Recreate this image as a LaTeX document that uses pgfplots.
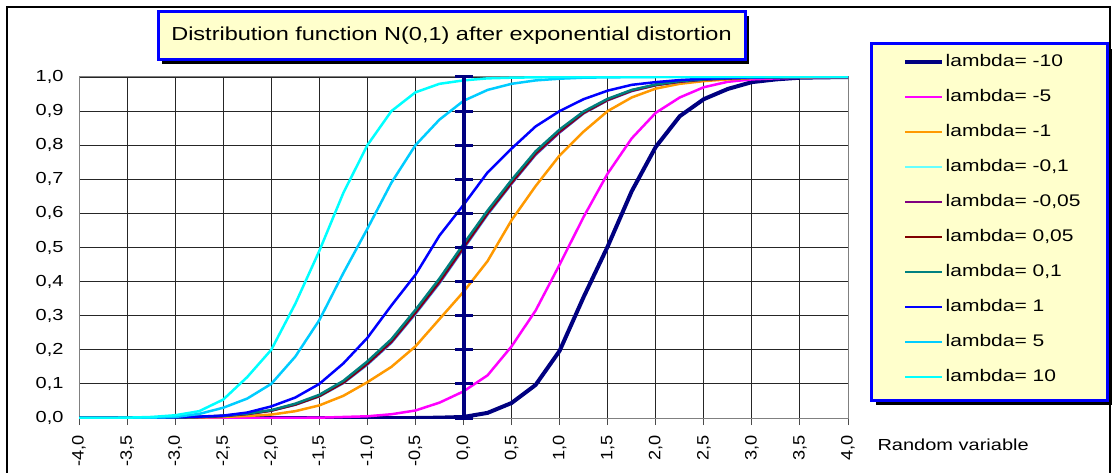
\documentclass[border=0pt]{standalone}
\usepackage{fontspec}
\setmainfont{Liberation Sans}[FakeStretch=1.25]
\newfontfamily\tickfont{Liberation Sans}[FakeStretch=1.1]
\usepackage{pgfplots}
\pgfplotsset{compat=1.18}

\definecolor{cnavy}{HTML}{000080}
\definecolor{cmag}{HTML}{FF00FF}
\definecolor{corange}{HTML}{FF9900}
\definecolor{clcyan}{HTML}{66FFFF}
\definecolor{cpurple}{HTML}{800080}
\definecolor{cmaroon}{HTML}{800000}
\definecolor{cteal}{HTML}{008080}
\definecolor{cblue}{HTML}{0000FF}
\definecolor{csky}{HTML}{00CCFF}
\definecolor{ccyan}{HTML}{00FFFF}
\definecolor{boxfill}{HTML}{FFFFCC}

\begin{document}
\begin{tikzpicture}[x=1pt,y=1pt]
\useasboundingbox (0,0) rectangle (1114,472);
% outer frame
\draw[black, line width=1.5pt] (7,-20) -- (7,465) -- (1110,465) -- (1110,-20);

% title box
\fill[black] (162,408) rectangle (749,456);
\draw[cblue, line width=3pt, fill=boxfill] (158,412) rectangle (745,460);
\node[font=\fontsize{18.8}{21}\selectfont] at (451.5,436) {Distribution function N(0,1) after exponential distortion};

% legend box
\fill[black] (876,67) rectangle (1112,423);
\draw[cblue, line width=3pt, fill=boxfill] (871,72) rectangle (1107,428);

\begin{axis}[
  at={(79pt,54pt)}, anchor=south west,
  scale only axis, width=769pt, height=341pt,
  xmin=-4, xmax=4, ymin=0, ymax=1,
  xtick={-4,-3.5,-3,-2.5,-2,-1.5,-1,-0.5,0,0.5,1,1.5,2,2.5,3,3.5,4},
  ytick={0,0.1,0.2,0.3,0.4,0.5,0.6,0.7,0.8,0.9,1},
  grid=major,
  major grid style={black!85, line width=0.9pt},
  axis line style={black!50, line width=1pt},
  tick align=outside, major tick length=7pt,
  xtick pos=bottom, ytick pos=left,
  ytick style={draw=none},
  xtick style={black!70, line width=1pt},
  /pgf/number format/.cd, fixed, fixed zerofill, precision=1, use comma, assume math mode=true,
  /pgfplots/.cd,
  yticklabel style={font=\fontsize{16}{18}\selectfont, xshift=-5pt},
  xticklabel style={font=\tickfont\fontsize{16.5}{18}\selectfont, rotate=90, anchor=east, xshift=-7pt},
  legend style={at={(axis description cs:1.07152,1.06745)}, anchor=north west,
    draw=none, fill=none, inner sep=0pt, row sep=19pt, column sep=1.5pt,
    font=\fontsize{16.8}{19}\selectfont,
    nodes={inner sep=0pt, text height=12pt, text depth=4pt}},
  legend cell align=left,
  legend image code/.code={\draw[#1] (0pt,0pt) -- (37pt,0pt);},
]
% lambda = -10
\addplot[cnavy, line width=4pt] coordinates {
(-4,0)(-3.5,0)(-3,0)(-2.5,0)(-2,0)(-1.5,0)(-1,0)(-0.5,0)(-0.25,0.001)(0,0.003)
(0.25,0.015)(0.5,0.044)(0.75,0.097)(1,0.197)(1.25,0.355)(1.5,0.503)(1.75,0.665)
(2,0.795)(2.25,0.885)(2.5,0.935)(2.75,0.965)(3,0.985)(3.25,0.993)(3.5,0.998)(3.75,0.999)(4,1)};
% lambda = -5
\addplot[cmag, line width=2.5pt] coordinates {
(-4,0)(-3,0)(-2,0)(-1.75,0.0005)(-1.5,0.001)(-1.25,0.003)(-1,0.005)(-0.75,0.011)
(-0.5,0.022)(-0.25,0.045)(0,0.078)(0.25,0.125)(0.5,0.21)(0.75,0.315)(1,0.45)
(1.25,0.59)(1.5,0.717)(1.75,0.82)(2,0.895)(2.25,0.94)(2.5,0.97)(2.75,0.986)
(3,0.993)(3.25,0.996)(3.5,0.998)(3.75,0.999)(4,1)};
% lambda = -1
\addplot[corange, line width=2.5pt] coordinates {
(-4,0)(-3.5,0.0001)(-3,0.0005)(-2.5,0.003)(-2.25,0.006)(-2,0.01)(-1.75,0.02)
(-1.5,0.037)(-1.25,0.065)(-1,0.105)(-0.75,0.15)(-0.5,0.21)(-0.25,0.29)(0,0.37)
(0.25,0.46)(0.5,0.58)(0.75,0.68)(1,0.77)(1.25,0.84)(1.5,0.9)(1.75,0.94)(2,0.966)
(2.25,0.98)(2.5,0.988)(2.75,0.993)(3,0.997)(3.5,0.999)(4,1)};
% lambda = -0.1
\addplot[clcyan, line width=2pt] coordinates {
(-4,0)(-3.5,0.0002)(-3,0.0013)(-2.75,0.0028)(-2.5,0.0055)(-2.25,0.011)(-2,0.021)
(-1.75,0.038)(-1.5,0.062)(-1.25,0.101)(-1,0.155)(-0.75,0.219)(-0.5,0.303)
(-0.25,0.393)(0,0.494)(0.25,0.594)(0.5,0.685)(0.75,0.77)(1,0.836)(1.25,0.892)
(1.5,0.931)(1.75,0.958)(2,0.975)(2.25,0.985)(2.5,0.992)(2.75,0.996)(3,0.998)(3.5,1)(4,1)};
% lambda = -0.05
\addplot[cpurple, line width=2.5pt] coordinates {
(-4,0)(-3.5,0.0002)(-3,0.0014)(-2.75,0.0029)(-2.5,0.0058)(-2.25,0.0115)(-2,0.0215)
(-1.75,0.039)(-1.5,0.064)(-1.25,0.103)(-1,0.158)(-0.75,0.222)(-0.5,0.307)
(-0.25,0.397)(0,0.498)(0.25,0.598)(0.5,0.688)(0.75,0.773)(1,0.838)(1.25,0.894)
(1.5,0.932)(1.75,0.959)(2,0.976)(2.25,0.986)(2.5,0.992)(2.75,0.996)(3,0.998)(3.5,1)(4,1)};
% lambda = 0.05
\addplot[cmaroon, line width=2.5pt] coordinates {
(-4,0)(-3.5,0.0002)(-3,0.0015)(-2.75,0.003)(-2.5,0.006)(-2.25,0.012)(-2,0.022)
(-1.75,0.04)(-1.5,0.065)(-1.25,0.105)(-1,0.161)(-0.75,0.226)(-0.5,0.311)
(-0.25,0.402)(0,0.503)(0.25,0.602)(0.5,0.692)(0.75,0.777)(1,0.842)(1.25,0.896)
(1.5,0.934)(1.75,0.961)(2,0.977)(2.25,0.987)(2.5,0.993)(2.75,0.996)(3,0.998)(3.5,1)(4,1)};
% lambda = 0.1
\addplot[cteal, line width=2.5pt] coordinates {
(-4,0)(-3.5,0.0002)(-3,0.0016)(-2.75,0.0032)(-2.5,0.0065)(-2.25,0.013)(-2,0.023)
(-1.75,0.042)(-1.5,0.068)(-1.25,0.109)(-1,0.166)(-0.75,0.231)(-0.5,0.317)
(-0.25,0.409)(0,0.51)(0.25,0.608)(0.5,0.698)(0.75,0.782)(1,0.846)(1.25,0.899)
(1.5,0.936)(1.75,0.962)(2,0.978)(2.25,0.988)(2.5,0.993)(2.75,0.997)(3,0.998)(3.5,1)(4,1)};
% lambda = 1
\addplot[cblue, line width=2.5pt] coordinates {
(-4,0)(-3.5,0.0003)(-3,0.002)(-2.75,0.004)(-2.5,0.007)(-2.25,0.016)(-2,0.034)
(-1.75,0.06)(-1.5,0.1)(-1.25,0.16)(-1,0.235)(-0.75,0.33)(-0.5,0.42)(-0.25,0.535)
(0,0.625)(0.25,0.72)(0.5,0.79)(0.75,0.855)(1,0.9)(1.25,0.935)(1.5,0.96)(1.75,0.977)
(2,0.985)(2.25,0.991)(2.5,0.995)(2.75,0.997)(3,0.999)(3.5,1)(4,1)};
% lambda = 5
\addplot[csky, line width=2.5pt] coordinates {
(-4,0)(-3.5,0.0005)(-3.25,0.001)(-3,0.003)(-2.75,0.012)(-2.5,0.03)(-2.25,0.057)
(-2,0.1)(-1.75,0.18)(-1.5,0.287)(-1.25,0.425)(-1,0.555)(-0.75,0.69)(-0.5,0.8)
(-0.25,0.875)(0,0.93)(0.25,0.962)(0.5,0.98)(0.75,0.99)(1,0.995)(1.25,0.998)
(1.5,0.999)(2,1)(3,1)(4,1)};
% lambda = 10
\addplot[ccyan, line width=2.5pt] coordinates {
(-4,0)(-3.75,0.0003)(-3.5,0.001)(-3.25,0.003)(-3,0.008)(-2.75,0.02)(-2.5,0.054)
(-2.25,0.12)(-2,0.2)(-1.75,0.335)(-1.5,0.49)(-1.25,0.66)(-1,0.8)(-0.75,0.9)
(-0.5,0.955)(-0.25,0.98)(0,0.99)(0.25,0.996)(0.5,0.998)(0.75,0.999)(1,1)(2,1)(3,1)(4,1)};
% vertical line at zero
\addplot[cnavy, line width=4pt, mark=-, mark size=9pt, mark options={line width=3pt}, forget plot] coordinates {
(0,0)(0,0.1)(0,0.2)(0,0.3)(0,0.4)(0,0.5)(0,0.6)(0,0.7)(0,0.8)(0,0.9)(0,1)};
\legend{{lambda= -10}, {lambda= -5}, {lambda= -1}, {lambda= -0,1}, {lambda= -0,05}, {lambda= 0,05}, {lambda= 0,1}, {lambda= 1}, {lambda= 5}, {lambda= 10}}
\end{axis}

\node[anchor=west, font=\fontsize{16}{18}\selectfont] at (874,27) {Random variable};
\end{tikzpicture}
\end{document}
